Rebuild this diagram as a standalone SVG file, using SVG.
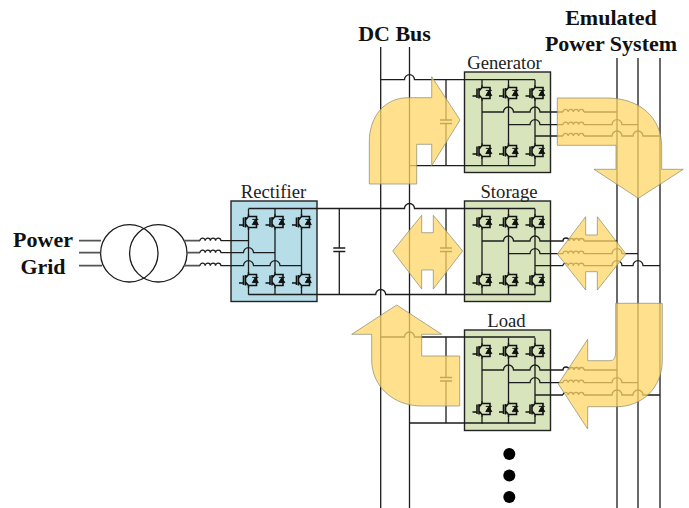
<svg xmlns="http://www.w3.org/2000/svg" width="689" height="508" viewBox="0 0 689 508">
<style>
.w{fill:none;stroke:#1c1c1c;stroke-width:1.3}
.t{fill:none;stroke:#111;stroke-width:1.6}
.g{fill:none;stroke:#555;stroke-width:1.7}
.r{fill:#b7dde8;stroke:#222;stroke-width:1.4}
.b{fill:#d7e4bc;stroke:#222;stroke-width:1.4}
.l{font-family:"Liberation Serif",serif;font-size:18.7px;text-anchor:middle;fill:#222}
.h{font-family:"Liberation Serif",serif;font-size:22px;font-weight:bold;text-anchor:middle;fill:#111}
.a{fill:#ffd666;fill-opacity:.75;stroke:#8a8a70;stroke-width:.7}
</style>
<defs>
<g id="igbt">
<path class="t" d="M0,-8V-5.5L-3,-2M-3,2L0,5.5V8M-3,-5V5.5M-5,-4.5V5M-9.5,3H-5M0,-5.5H8V5.5H0"/>
<path d="M3.8,2.6H9.8L6.8,-2.4ZM3.8,-2.6H9.8" fill="#111" stroke="#111" stroke-width="1"/>
</g>
<g id="bridge">
<path class="w" d="M17.5,7.7V13M17.5,29V71M17.5,87V93.7M44,7.7V13M44,29V71M44,87V93.7M70.5,7.7V13M70.5,29V71M70.5,87V93.7"/>
<use href="#igbt" x="17.5" y="21"/><use href="#igbt" x="44" y="21"/><use href="#igbt" x="70.5" y="21"/>
<use href="#igbt" x="17.5" y="79"/><use href="#igbt" x="44" y="79"/><use href="#igbt" x="70.5" y="79"/>
</g>
<path id="ind" class="w" d="M0,0a2.6,2.6 0 0 1 5.2,0a2.6,2.6 0 0 1 5.2,0a2.6,2.6 0 0 1 5.2,0a2.6,2.6 0 0 1 5.2,0"/>
<path id="cap" class="w" d="M-6,0H6M-6,3.5H6"/>
</defs>

<g id="node-grid">
<text class="h" x="43" y="246.5">Power</text>
<text class="h" x="43" y="274">Grid</text>
</g>
<g id="node-dc-bus"><text class="h" x="394.5" y="41">DC Bus</text></g>
<g id="node-power-system">
<text class="h" x="611" y="25">Emulated</text>
<text class="h" x="611" y="50.5">Power System</text>
</g>
<g id="node-transformer">
<circle class="w" cx="129.3" cy="253.3" r="28.7"/>
<circle class="w" cx="158.3" cy="253.3" r="28.7"/>
</g>
<g id="node-rectifier">
<rect class="r" x="231" y="201" width="86" height="100.5"/>
<text class="l" x="273.5" y="197.5">Rectifier</text>
<use href="#bridge" x="231" y="201"/>
</g>
<g id="node-generator">
<rect class="b" x="464.5" y="72" width="86" height="100.5"/>
<text class="l" x="504.5" y="68.5">Generator</text>
<use href="#bridge" x="464.5" y="72"/>
</g>
<g id="node-storage">
<rect class="b" x="464.5" y="201" width="86" height="100.5"/>
<text class="l" x="509" y="197.5">Storage</text>
<use href="#bridge" x="464.5" y="201"/>
</g>
<g id="node-load">
<rect class="b" x="464.5" y="330" width="86" height="100.5"/>
<text class="l" x="506.5" y="326.5">Load</text>
<use href="#bridge" x="464.5" y="330"/>
</g>
<g id="node-dots" fill="#000">
<circle cx="509.3" cy="454" r="6"/>
<circle cx="509.3" cy="475.5" r="6"/>
<circle cx="509.3" cy="497" r="6"/>
</g>

<g id="connectors">
<path class="w" d="M380.7,47V508M409.5,47V508M617,58V508M638,58V508M660,58V508"/>
<path class="g" d="M79,240.7H101M79,252.7H100.5M79,265.7H102M184,240.7H200M187,252.7H200M184,265.7H200"/>
<path class="w" d="M220.8,240.7H248.5M220.8,252.7H243.5a5,5 0 0 1 10,0H275M220.8,265.7H243.5a5,5 0 0 1 10,0H270a5,5 0 0 1 10,0H301.5"/>
<use href="#ind" x="200" y="240.7"/><use href="#ind" x="200" y="252.7"/><use href="#ind" x="200" y="265.7"/>
<path class="w" d="M248.5,208.5H404.5a5,5 0 0 1 10,0H535M248.5,294.5H375.7a5,5 0 0 1 10,0H535"/>
<path class="w" d="M339.3,208.5V248M339.3,251.5V294.5M446,208.5V248M446,251.5V294.5"/>
<use href="#cap" x="339.3" y="248"/><use href="#cap" x="446" y="248"/>

<path class="w" d="M380.7,79.7H404.5a5,5 0 0 1 10,0H535M409.5,165.7H535M446,79.7V120M446,123.5V165.7"/>
<use href="#cap" x="446" y="120"/>
<path class="w" d="M482,112H503.5a5,5 0 0 1 10,0H530a5,5 0 0 1 10,0H563M584,112H617M508.5,124.7H530a5,5 0 0 1 10,0H563M584,124.7H612a5,5 0 0 1 10,0H638M535,136H563M584,136H612a5,5 0 0 1 10,0H633a5,5 0 0 1 10,0H660"/>
<use href="#ind" x="563" y="112"/><use href="#ind" x="563" y="124.7"/><use href="#ind" x="563" y="136"/>

<path class="w" d="M482,241H503.5a5,5 0 0 1 10,0H530a5,5 0 0 1 10,0H563a3,3 0 0 1 6,0M584,241H617M508.5,253.7H530a5,5 0 0 1 10,0H563M584,253.7H612a5,5 0 0 1 10,0H638M535,265.7H563M584,265.7H612a5,5 0 0 1 10,0H633a5,5 0 0 1 10,0H660"/>
<path class="w" d="M569,241a2.5,2.5 0 0 1 5,0a2.5,2.5 0 0 1 5,0a2.5,2.5 0 0 1 5,0"/><use href="#ind" x="563" y="253.7"/><use href="#ind" x="563" y="265.7"/>

<path class="w" d="M380.7,337H404.5a5,5 0 0 1 10,0H535M409.5,423H535M446,337V377.5M446,381V423"/>
<use href="#cap" x="446" y="377.5"/>
<path class="w" d="M482,370H503.5a5,5 0 0 1 10,0H530a5,5 0 0 1 10,0H563a3,3 0 0 1 6,0M584,370H617M508.5,382.7H530a5,5 0 0 1 10,0H563M584,382.7H612a5,5 0 0 1 10,0H638M535,395H563M584,395H612a5,5 0 0 1 10,0H633a5,5 0 0 1 10,0H660"/>
<path class="w" d="M569,370a2.5,2.5 0 0 1 5,0a2.5,2.5 0 0 1 5,0a2.5,2.5 0 0 1 5,0"/><use href="#ind" x="563" y="382.7"/><use href="#ind" x="563" y="395"/>
</g>

<g id="power-flow-arrows">
<path class="a" d="M369.3,184V142C369.3,116 385,97.7 408,97.7H431.7V76.7L460,120L431.7,165.7V144.3H416.7V184Z"/>
<path class="a" d="M557.3,98H607C640,98 661.7,118 661.7,146.7V169.3H683.3L638.3,198.3L594,169.3H616V145.3H557.3Z"/>
<path class="a" d="M392.7,251L421.7,215.3V232.7H433.3V215.3L462.7,251L433.3,289V270H421.7V289Z"/>
<path class="a" d="M557.3,254L585.7,216.7V235H597.3V216.7L626,254L597.3,290V271.7H585.7V290Z"/>
<path class="a" d="M396.7,305L441.7,334.3H421.7V356H459.7V406H421.7C393,406 371.7,386 371.7,360V334.3H351.7Z"/>
<path class="a" d="M615.7,303.3H662.3V360C662.3,388 642,406.7 616.7,406.7H587.7V429L558.3,384L587.7,339.3V360.7H610Q615.7,360.7 615.7,352Z"/>
</g>
</svg>
